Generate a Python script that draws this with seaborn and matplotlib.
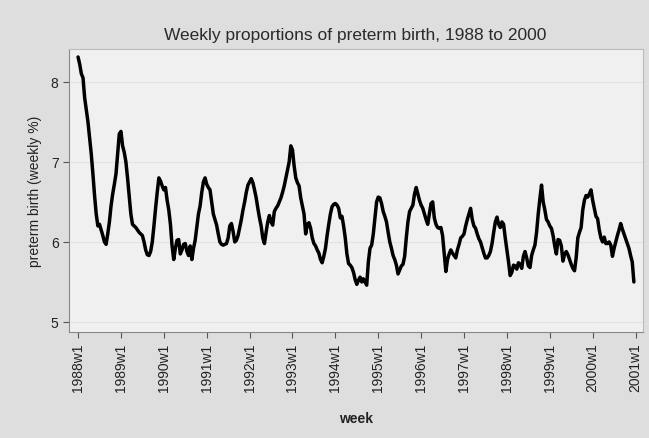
import numpy as np
import pandas as pd
import matplotlib
matplotlib.use('Agg')
import matplotlib.pyplot as plt
import seaborn as sns

# Preterm birth %, one value every 2 weeks (w1, w3, ... w51)
y1988 = [8.31, 8.22, 8.10, 8.05, 7.80, 7.65, 7.50, 7.30, 7.10, 6.85, 6.58, 6.35, 6.20,
         6.22, 6.15, 6.08, 6.00, 5.97, 6.10, 6.25, 6.45, 6.60, 6.72, 6.85, 7.10, 7.35]
y1989 = [7.38, 7.20, 7.12, 7.00, 6.80, 6.58, 6.35, 6.22, 6.20, 6.18, 6.15, 6.12, 6.10,
         6.08, 6.00, 5.90, 5.84, 5.83, 5.88, 6.00, 6.20, 6.42, 6.62, 6.80, 6.76, 6.70]
y1990 = [6.65, 6.68, 6.52, 6.40, 6.22, 5.95, 5.78, 5.92, 6.02, 6.03, 5.85, 5.90, 5.97,
         5.98, 5.88, 5.83, 5.95, 5.78, 5.92, 6.02, 6.18, 6.35, 6.45, 6.62, 6.75, 6.80]
y1991 = [6.72, 6.68, 6.65, 6.50, 6.35, 6.28, 6.21, 6.10, 6.00, 5.97, 5.96, 5.97, 5.98,
         6.05, 6.20, 6.23, 6.13, 6.00, 6.02, 6.08, 6.18, 6.28, 6.40, 6.50, 6.62, 6.71]
y1992 = [6.75, 6.79, 6.74, 6.65, 6.55, 6.42, 6.30, 6.20, 6.05, 5.98, 6.12, 6.25, 6.33,
         6.25, 6.21, 6.38, 6.42, 6.45, 6.50, 6.55, 6.62, 6.70, 6.80, 6.90, 7.00, 7.20]
y1993 = [7.15, 6.95, 6.80, 6.74, 6.70, 6.55, 6.45, 6.35, 6.10, 6.22, 6.24, 6.17, 6.05,
         5.98, 5.95, 5.90, 5.86, 5.78, 5.74, 5.82, 5.92, 6.08, 6.22, 6.35, 6.44, 6.47]
y1994 = [6.48, 6.46, 6.42, 6.30, 6.32, 6.20, 6.05, 5.85, 5.73, 5.71, 5.68, 5.62, 5.53,
         5.47, 5.52, 5.56, 5.50, 5.54, 5.50, 5.46, 5.75, 5.92, 5.96, 6.10, 6.30, 6.50]
y1995 = [6.56, 6.55, 6.48, 6.38, 6.32, 6.25, 6.12, 6.00, 5.92, 5.83, 5.78, 5.71, 5.60,
         5.65, 5.70, 5.72, 5.82, 6.05, 6.25, 6.38, 6.42, 6.46, 6.60, 6.68, 6.60, 6.52]
y1996 = [6.46, 6.42, 6.35, 6.28, 6.22, 6.35, 6.48, 6.50, 6.30, 6.22, 6.18, 6.17, 6.18,
         6.08, 5.85, 5.63, 5.78, 5.85, 5.90, 5.86, 5.83, 5.80, 5.90, 5.97, 6.05, 6.07]
y1997 = [6.10, 6.20, 6.28, 6.35, 6.42, 6.28, 6.20, 6.17, 6.10, 6.04, 6.00, 5.93, 5.86,
         5.80, 5.80, 5.83, 5.88, 5.98, 6.12, 6.25, 6.31, 6.22, 6.18, 6.25, 6.22, 6.05]
y1998 = [5.90, 5.75, 5.58, 5.62, 5.71, 5.70, 5.66, 5.74, 5.72, 5.67, 5.82, 5.88, 5.80,
         5.70, 5.68, 5.83, 5.90, 5.96, 6.12, 6.35, 6.54, 6.71, 6.50, 6.40, 6.28, 6.25]
y1999 = [6.20, 6.17, 6.08, 5.95, 5.85, 6.03, 6.02, 5.95, 5.76, 5.85, 5.88, 5.84, 5.78,
         5.72, 5.67, 5.64, 5.80, 6.05, 6.12, 6.18, 6.40, 6.52, 6.58, 6.56, 6.60, 6.65]
y2000 = [6.52, 6.42, 6.32, 6.29, 6.15, 6.05, 6.00, 6.06, 5.98, 5.98, 6.00, 5.96, 5.82,
         5.92, 6.00, 6.08, 6.15, 6.23, 6.16, 6.10, 6.04, 5.98, 5.92, 5.83, 5.75, 5.50]

tick_years = list(range(1988, 2002))
tick_labels = ['%dw1' % y for y in tick_years]

vals = (y1988 + y1989 + y1990 + y1991 + y1992 + y1993 + y1994 + y1995 + y1996
        + y1997 + y1998 + y1999 + y2000)
weeks = np.arange(0, 2 * len(vals), 2)   # weeks since 1988w1
df = pd.DataFrame({'week': weeks, 'preterm': vals})

sns.set_theme(style='ticks')
plt.rcParams['font.family'] = ['Liberation Sans', 'DejaVu Sans']

fig = plt.figure(figsize=(6.49, 4.39), dpi=100)
fig.patch.set_facecolor('#dedede')
ax = fig.add_axes([0.1063, 0.2415, 0.8844, 0.6446])
ax.set_facecolor('#f0f0f0')

sns.lineplot(data=df, x='week', y='preterm', color='black', linewidth=2.5, ax=ax)

ax.set_xlim(-11, 685)
ax.set_ylim(4.875, 8.41)
ax.set_yticks([5, 6, 7, 8])
ax.set_xticks([52 * (y - 1988) for y in tick_years])
ax.set_xticklabels(tick_labels, rotation=90)
ax.tick_params(axis='both', colors='#555555', labelcolor='#222222', labelsize=10,
               length=4, width=0.8)
ax.grid(axis='y', color='#e2e2e2', linewidth=0.8)
for s in ax.spines.values():
    s.set_color('#bbbbbb')
    s.set_linewidth(0.8)
ax.spines['left'].set_color('#888888')
ax.spines['bottom'].set_color('#888888')

ax.set_xlabel('week', fontsize=10, color='#222222', fontweight='bold', labelpad=14)
ax.set_ylabel('preterm birth (weekly %)', fontsize=10, color='#222222', labelpad=6)
fig.text(0.547, 0.92, 'Weekly proportions of preterm birth, 1988 to 2000',
         ha='center', va='center', fontsize=12.5, color='#2a2a2a')

fig.savefig('out.png', dpi=100, facecolor=fig.get_facecolor())
